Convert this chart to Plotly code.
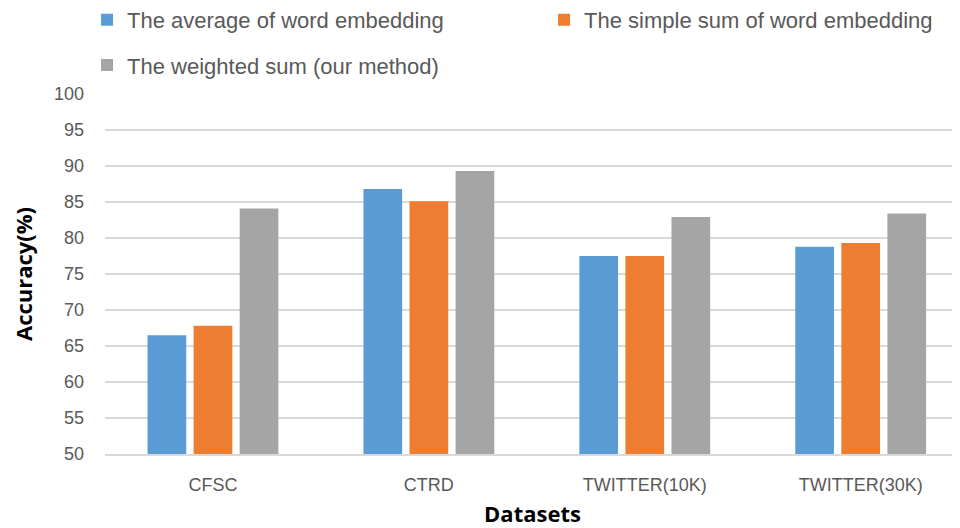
import plotly.graph_objects as go

categories = ["CFSC", "CTRD", "TWITTER(10K)", "TWITTER(30K)"]
series_names = ["The average of word embedding", "The simple sum of word embedding", "The weighted sum (our method)"]
avg_values = [66.5, 86.8, 77.5, 78.8]
sum_values = [67.8, 85.1, 77.5, 79.3]
weighted_values = [84.1, 89.3, 82.9, 83.4]
y_ticks = [50, 55, 60, 65, 70, 75, 80, 85, 90, 95, 100]

colors = ["#5B9BD5", "#ED7D31", "#A5A5A5"]
font_family = "Liberation Sans Narrow, Arial Narrow, Liberation Sans, Arial, sans-serif"
title_family = "Open Sans, Liberation Sans, Arial, sans-serif"

fig = go.Figure()
for name, vals, col, leg in zip(series_names, [avg_values, sum_values, weighted_values], colors,
                                ["legend", "legend", "legend2"]):
    fig.add_trace(go.Bar(x=categories, y=vals, name=name, marker_color=col,
                         marker_line_width=0, legend=leg))

fig.update_layout(
    width=952, height=520,
    margin=dict(l=97, r=0, t=86, b=74, autoexpand=False),
    paper_bgcolor="white", plot_bgcolor="white",
    barmode="group", bargap=0.36, bargroupgap=0.16,
    font=dict(family=font_family, color="#595959", size=18),
    legend=dict(orientation="h", x=-0.021, y=1.206, xanchor="left", yanchor="middle",
                entrywidth=412, entrywidthmode="pixels",
                font=dict(size=22, color="#595959", family=font_family),
                bgcolor="rgba(0,0,0,0)"),
    legend2=dict(orientation="h", x=-0.021, y=1.08, xanchor="left", yanchor="middle",
                 font=dict(size=22, color="#595959", family=font_family),
                 bgcolor="rgba(0,0,0,0)"),
    showlegend=True,
)
fig.update_xaxes(
    range=[-0.5, 3.46], showgrid=False, showline=True, linecolor="#D9D9D9", linewidth=1.5,
    ticks="", ticklabelstandoff=14, tickfont=dict(size=18, color="#595959"),
    title=dict(text="<b>Datasets</b>", font=dict(size=22, color="#000000", family=title_family), standoff=24),
    automargin=False,
)
fig.update_yaxes(
    range=[50, 100], tickvals=y_ticks, showgrid=True, gridcolor="#D9D9D9", gridwidth=1.5,
    zeroline=False, showline=False, ticks="", ticklabelstandoff=20,
    tickfont=dict(size=18, color="#595959"),
    title=dict(text="<b>Accuracy(%)</b>", font=dict(size=22, color="#000000", family=title_family), standoff=18),
    automargin=False,
)

fig.write_html("out.html")
